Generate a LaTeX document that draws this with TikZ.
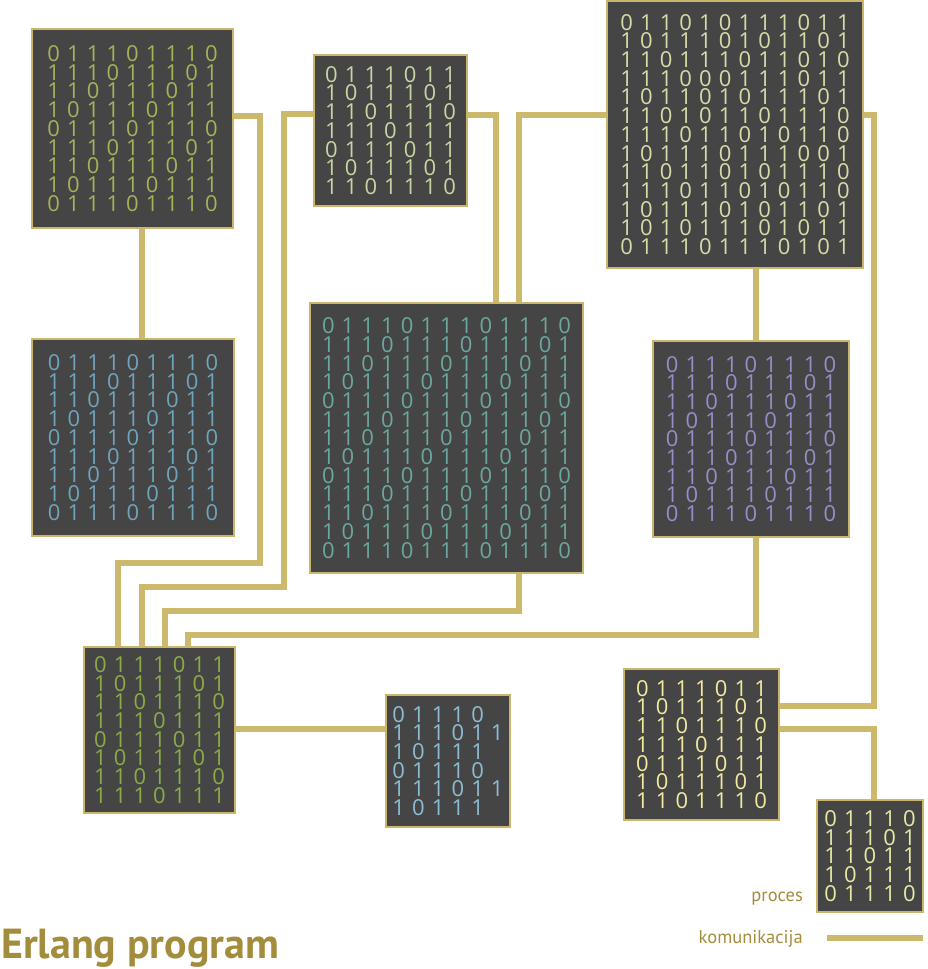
\documentclass[tikz,border=0pt]{standalone}
\usepackage{fontspec}
\setmainfont{Open Sans}
\newfontfamily\labelfont{PT Sans}
\usetikzlibrary{backgrounds}
\definecolor{boxfill}{HTML}{454545}
\definecolor{boxedge}{HTML}{C9B66C}
\definecolor{conncol}{HTML}{CDB96B}
\definecolor{titlecol}{HTML}{A38D3C}
\definecolor{dA}{HTML}{A8B058}
\definecolor{dB}{HTML}{C6D6A0}
\definecolor{dC}{HTML}{D9DBA6}
\definecolor{dD}{HTML}{6FA4BD}
\definecolor{dE}{HTML}{6AA89E}
\definecolor{dF}{HTML}{938FC8}
\definecolor{dG}{HTML}{8AAB48}
\definecolor{dH}{HTML}{8DBDD3}
\definecolor{dI}{HTML}{F2EAA0}
\definecolor{dJ}{HTML}{E8E9A2}
\newlength\bitw \setlength\bitw{19.7pt}
\makeatletter
\newcommand\bitrow[1]{\bit@aux#1\relax}
\def\bit@aux#1{\ifx#1\relax\else\makebox[\bitw]{#1}\expandafter\bit@aux\fi}
\makeatother
\newcommand\gridnine{\bitrow{011101110}\\\bitrow{111011101}\\\bitrow{110111011}\\\bitrow{101110111}\\\bitrow{011101110}\\\bitrow{111011101}\\\bitrow{110111011}\\\bitrow{101110111}\\\bitrow{011101110}}
\newcommand\gridseven{\bitrow{0111011}\\\bitrow{1011101}\\\bitrow{1101110}\\\bitrow{1110111}\\\bitrow{0111011}\\\bitrow{1011101}\\\bitrow{1101110}}
\begin{document}
\begin{tikzpicture}[x=1pt,y=-1pt,
  procbox/.style={draw=boxedge, line width=2pt, fill=boxfill, inner sep=0pt, align=center,
    font=\fontsize{22}{18.7}\selectfont},
  conn/.style={draw=conncol, line width=6.5pt},
  legendtext/.style={text=titlecol, inner sep=0pt, font=\labelfont\fontsize{18.5}{20}\selectfont}]
\useasboundingbox (0,0) rectangle (927,969);
% processes
\node[procbox, text=dA, minimum width=201pt, minimum height=199pt] (p1) at (132.5,128.5) {\gridnine};
\node[procbox, text=dB, minimum width=153pt, minimum height=151pt] (p2) at (390.5,130.5) {\gridseven};
\node[procbox, text=dC, minimum width=256pt, minimum height=267pt] (p3) at (735,134.5) {%
\bitrow{011010111011}\\\bitrow{101110101101}\\\bitrow{110111011010}\\\bitrow{111000111011}\\%
\bitrow{101101011101}\\\bitrow{110101101110}\\\bitrow{111011010110}\\\bitrow{101110111001}\\%
\bitrow{110110101110}\\\bitrow{111011010110}\\\bitrow{101110101101}\\\bitrow{101011101011}\\%
\bitrow{011101110101}};
\node[procbox, text=dD, minimum width=202pt, minimum height=197pt] (p4) at (133,437.5) {\gridnine};
\node[procbox, text=dE, minimum width=273pt, minimum height=270pt] (p5) at (446.5,438) {%
\bitrow{0111011101110}\\\bitrow{1110111011101}\\\bitrow{1101110111011}\\\bitrow{1011101110111}\\%
\bitrow{0111011101110}\\\bitrow{1110111011101}\\\bitrow{1101110111011}\\\bitrow{1011101110111}\\%
\bitrow{0111011101110}\\\bitrow{1110111011101}\\\bitrow{1101110111011}\\\bitrow{1011101110111}\\%
\bitrow{0111011101110}};
\node[procbox, text=dF, minimum width=196pt, minimum height=196pt] (p6) at (751,439) {\gridnine};
\node[procbox, text=dG, minimum width=151pt, minimum height=166pt] (p7) at (159.5,730) {\gridseven\\\bitrow{1110111}};
\node[procbox, text=dH, align=left, minimum width=124pt, minimum height=132pt] (p8) at (448,761) {%
\bitrow{01110}\\\bitrow{111011}\\\bitrow{10111}\\\bitrow{01110}\\\bitrow{111011}\\\bitrow{10111}};
\node[procbox, text=dI, minimum width=155pt, minimum height=151pt] (p9) at (701.5,744.5) {\gridseven};
\node[procbox, text=dJ, minimum width=106pt, minimum height=112pt] (p10) at (870,856) {%
\bitrow{01110}\\\bitrow{11101}\\\bitrow{11011}\\\bitrow{10111}\\\bitrow{01110}};
% bend coordinates
\coordinate (k1) at (142,283);
\coordinate (k2) at (260,116);
\coordinate (k3) at (284,114);
\coordinate (k4) at (496,115);
\coordinate (k5) at (519,115);
\coordinate (k7) at (756,635);
\coordinate (k8) at (874,115);
\coordinate (k9) at (874,706);
\coordinate (k10) at (874,729);
\coordinate (k11) at (300,729);
\coordinate (t1) at (118,563);
\coordinate (t2) at (142,587);
\coordinate (t3) at (165,611);
\coordinate (t4) at (188,635);
\coordinate (l1) at (827,938);
\coordinate (l2) at (923,938);
% connectors
\begin{scope}[on background layer]
\draw[conn] (p1.south -| k1) -- (p4.north -| k1);
\draw[conn] (p1.east |- k2) -- (k2) -- (k2 |- t1) -- (t1) -- (p7.north -| t1);
\draw[conn] (p2.west |- k3) -- (k3) -- (k3 |- t2) -- (t2) -- (p7.north -| t2);
\draw[conn] (p2.east |- k4) -- (k4) -- (p5.north -| k4);
\draw[conn] (p3.west |- k5) -- (k5) -- (p5.north -| k5);
\draw[conn] (p5.south -| k5) -- (k5 |- t3) -- (t3) -- (p7.north -| t3);
\draw[conn] (p3.south -| k7) -- (p6.north -| k7);
\draw[conn] (p6.south -| k7) -- (k7) -- (t4) -- (p7.north -| t4);
\draw[conn] (p3.east |- k8) -- (k8) -- (k9) -- (p9.east |- k9);
\draw[conn] (p9.east |- k10) -- (k10) -- (p10.north -| k10);
\draw[conn] (p7.east |- k11) -- (p8.west |- k11);
\end{scope}
% legend
\node[legendtext, anchor=base east] (lp) at (803,901) {proces};
\node[legendtext, anchor=base east] (lk) at (803,943) {komunikacija};
\draw[conn] (l1) -- (l2);
\node[text=titlecol, inner sep=0pt, anchor=base west, font=\labelfont\bfseries\fontsize{42}{44}\selectfont] (title) at (1,958) {Erlang program};
\end{tikzpicture}
\end{document}
